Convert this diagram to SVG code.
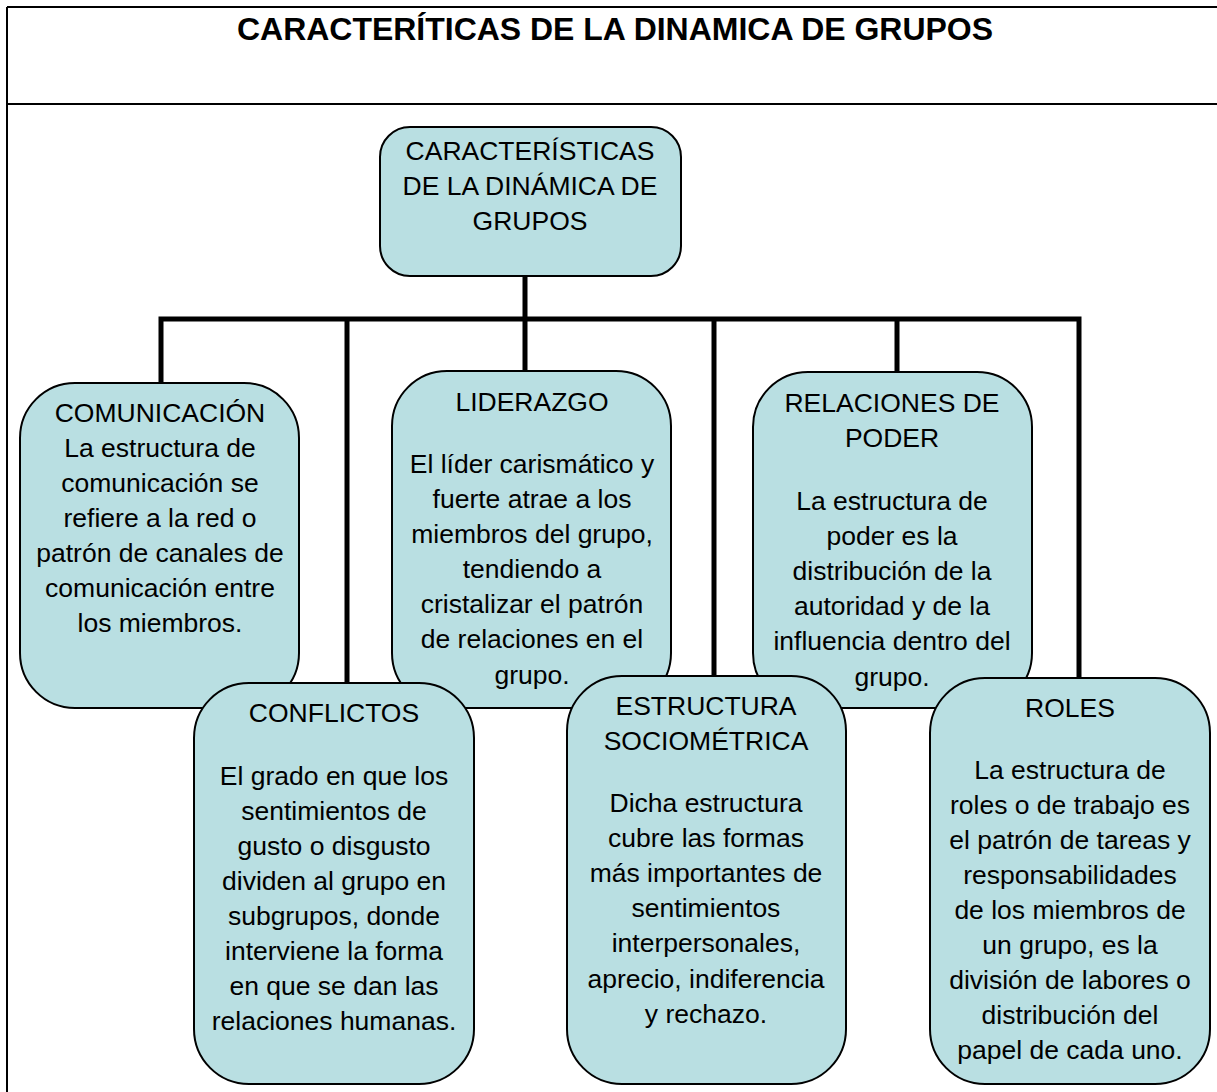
<svg xmlns="http://www.w3.org/2000/svg" width="1217" height="1092" viewBox="0 0 1217 1092">
<style>
.frame{stroke:#000;stroke-width:2;fill:none}
.box{fill:#b9dfe2;stroke:#000;stroke-width:2}
.sh{fill:#9a9a9a;opacity:0.5}
.conn{stroke:#000;stroke-width:5;fill:none}
text{font-family:"Liberation Sans",Arial,sans-serif;font-size:26.5px;fill:#000;text-anchor:middle}
.title{font-weight:bold;font-size:32px}
</style>
<g id="frame">
<line class="frame" x1="7" y1="7" x2="1217" y2="7"/>
<line class="frame" x1="7" y1="104" x2="1217" y2="104"/>
<line class="frame" x1="7" y1="7" x2="7" y2="1092"/>
<text class="title" x="615" y="40" textLength="756" lengthAdjust="spacingAndGlyphs">CARACTERÍTICAS DE LA DINAMICA DE GRUPOS</text>
</g>
<g id="connectors">
<path class="conn" d="M525 276V319M161 383V319H1079V678M347 319V683M525 319V371M714 319V676M897 319V372"/>
</g>
<g id="root">
<rect class="box" x="380" y="127" width="301" height="149" rx="30"/>
<text x="530" y="160">CARACTERÍSTICAS</text>
<text x="530" y="195">DE LA DINÁMICA DE</text>
<text x="530" y="230">GRUPOS</text>
</g>
<g id="comunicacion">
<rect class="box" x="20" y="383" width="279" height="325" rx="55"/>
<text x="160" y="422">COMUNICACIÓN</text>
<text x="160" y="457">La estructura de</text>
<text x="160" y="492">comunicación se</text>
<text x="160" y="527">refiere a la red o</text>
<text x="160" y="562">patrón de canales de</text>
<text x="160" y="597">comunicación entre</text>
<text x="160" y="632">los miembros.</text>
</g>
<g id="liderazgo">
<rect class="box" x="392" y="371" width="279" height="337" rx="55"/>
<text x="532" y="411">LIDERAZGO</text>
<text x="532" y="473">El líder carismático y</text>
<text x="532" y="508">fuerte atrae a los</text>
<text x="532" y="543">miembros del grupo,</text>
<text x="532" y="578">tendiendo a</text>
<text x="532" y="613">cristalizar el patrón</text>
<text x="532" y="648">de relaciones en el</text>
<text x="532" y="684">grupo.</text>
</g>
<g id="relaciones">
<rect class="box" x="753" y="372" width="279" height="336" rx="55"/>
<text x="892" y="412">RELACIONES DE</text>
<text x="892" y="447">PODER</text>
<text x="892" y="510">La estructura de</text>
<text x="892" y="545">poder es la</text>
<text x="892" y="580">distribución de la</text>
<text x="892" y="615">autoridad y de la</text>
<text x="892" y="650">influencia dentro del</text>
<text x="892" y="686">grupo.</text>
</g>
<g id="conflictos">
<rect class="box" x="194" y="683" width="280" height="401" rx="55"/>
<text x="334" y="722">CONFLICTOS</text>
<text x="334" y="785">El grado en que los</text>
<text x="334" y="820">sentimientos de</text>
<text x="334" y="855">gusto o disgusto</text>
<text x="334" y="890">dividen al grupo en</text>
<text x="334" y="925">subgrupos, donde</text>
<text x="334" y="960">interviene la forma</text>
<text x="334" y="995">en que se dan las</text>
<text x="334" y="1030">relaciones humanas.</text>
</g>
<g id="estructura">
<rect class="box" x="567" y="676" width="279" height="408" rx="55"/>
<text x="706" y="715">ESTRUCTURA</text>
<text x="706" y="750">SOCIOMÉTRICA</text>
<text x="706" y="812">Dicha estructura</text>
<text x="706" y="847">cubre las formas</text>
<text x="706" y="882">más importantes de</text>
<text x="706" y="917">sentimientos</text>
<text x="706" y="952">interpersonales,</text>
<text x="706" y="988">aprecio, indiferencia</text>
<text x="706" y="1023">y rechazo.</text>
</g>
<g id="roles">
<rect class="box" x="930" y="678" width="280" height="406" rx="55"/>
<text x="1070" y="717">ROLES</text>
<text x="1070" y="779">La estructura de</text>
<text x="1070" y="814">roles o de trabajo es</text>
<text x="1070" y="849">el patrón de tareas y</text>
<text x="1070" y="884">responsabilidades</text>
<text x="1070" y="919">de los miembros de</text>
<text x="1070" y="954">un grupo, es la</text>
<text x="1070" y="989">división de labores o</text>
<text x="1070" y="1024">distribución del</text>
<text x="1070" y="1059">papel de cada uno.</text>
</g>
</svg>
